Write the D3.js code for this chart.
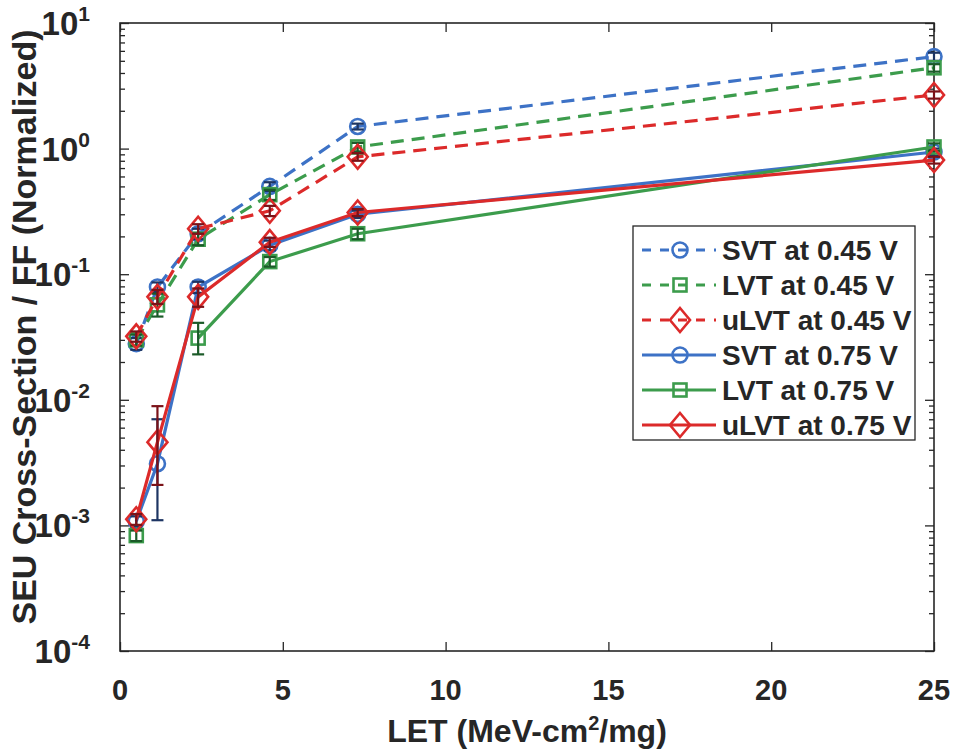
<!DOCTYPE html>
<html>
<head>
<meta charset="utf-8">
<script src="https://cdn.jsdelivr.net/npm/d3@7"></script>
<style>
  body { margin: 0; background: #fff; }
  text { font-family: "Liberation Sans", Arial, sans-serif; font-weight: bold; fill: #262626; }
</style>
</head>
<body>
<svg id="chart" width="954" height="753"></svg>
<script>
// LET values (MeV-cm^2/mg)
const letValues = [0.5, 1.15, 2.4, 4.6, 7.3, 25];

// Normalized SEU cross-section per flip-flop, with error-bar bounds
const svt045   = [0.028, 0.079, 0.21, 0.50, 1.50, 5.4];
const svt045Lo = [0.025, 0.072, 0.19, 0.46, 1.42, 5.0];
const svt045Hi = [0.031, 0.086, 0.23, 0.54, 1.58, 5.8];

const lvt045   = [0.030, 0.057, 0.19, 0.43, 1.03, 4.4];
const lvt045Lo = [0.027, 0.046, 0.17, 0.39, 0.95, 4.1];
const lvt045Hi = [0.033, 0.070, 0.21, 0.47, 1.11, 4.7];

const ulvt045   = [0.032, 0.066, 0.23, 0.32, 0.86, 2.67];
const ulvt045Lo = [0.029, 0.058, 0.21, 0.29, 0.80, 2.50];
const ulvt045Hi = [0.035, 0.075, 0.25, 0.35, 0.92, 2.85];

const svt075   = [0.00108, 0.0031, 0.079, 0.170, 0.30, 0.94];
const svt075Lo = [0.00098, 0.0011, 0.071, 0.155, 0.28, 0.88];
const svt075Hi = [0.00118, 0.0070, 0.087, 0.185, 0.32, 1.00];

// no upsets recorded at the second LET point
const lvt075   = [0.00083, null, 0.031, 0.126, 0.21, 1.03];
const lvt075Lo = [0.00075, null, 0.023, 0.115, 0.19, 0.96];
const lvt075Hi = [0.00091, null, 0.041, 0.137, 0.23, 1.10];

const ulvt075   = [0.00112, 0.0046, 0.066, 0.180, 0.31, 0.81];
const ulvt075Lo = [0.00101, 0.0021, 0.055, 0.165, 0.29, 0.76];
const ulvt075Hi = [0.00123, 0.0089, 0.077, 0.195, 0.33, 0.86];

const seriesLabels = ["SVT at 0.45 V", "LVT at 0.45 V", "uLVT at 0.45 V",
                      "SVT at 0.75 V", "LVT at 0.75 V", "uLVT at 0.75 V"];

const xTicks = [0, 5, 10, 15, 20, 25];
const yExponents = [-4, -3, -2, -1, 0, 1];

const blue = "#3d72c6", green = "#3c9c4c", red = "#dc2a2a";
const blueDark = "#1d3563", greenDark = "#1b5a28", redDark = "#7b1218";

const series = [
  { name: seriesLabels[0], v: svt045,  lo: svt045Lo,  hi: svt045Hi,  color: blue,  err: blueDark,  marker: "circle",  dashed: true },
  { name: seriesLabels[1], v: lvt045,  lo: lvt045Lo,  hi: lvt045Hi,  color: green, err: greenDark, marker: "square",  dashed: true },
  { name: seriesLabels[2], v: ulvt045, lo: ulvt045Lo, hi: ulvt045Hi, color: red,   err: redDark,   marker: "diamond", dashed: true },
  { name: seriesLabels[3], v: svt075,  lo: svt075Lo,  hi: svt075Hi,  color: blue,  err: blueDark,  marker: "circle",  dashed: false },
  { name: seriesLabels[4], v: lvt075,  lo: lvt075Lo,  hi: lvt075Hi,  color: green, err: greenDark, marker: "square",  dashed: false },
  { name: seriesLabels[5], v: ulvt075, lo: ulvt075Lo, hi: ulvt075Hi, color: red,   err: redDark,   marker: "diamond", dashed: false }
];

const svg = d3.select("#chart");
const plotLeft = 120, plotRight = 934, plotTop = 23, plotBottom = 651;

const x = d3.scaleLinear().domain([0, 25]).range([plotLeft, plotRight]);
const y = d3.scaleLog().domain([1e-4, 10]).range([plotBottom, plotTop]);

const axisColor = "#262626";

// minor log ticks
const minorTicks = [];
yExponents.slice(0, -1).forEach(e => {
  for (let m = 2; m <= 9; m++) minorTicks.push(m * Math.pow(10, e));
});

const axes = svg.append("g");
const yMajor = yExponents.map(e => Math.pow(10, e));
axes.append("g").attr("transform", `translate(${plotLeft},0)`)
  .call(d3.axisLeft(y).tickValues(minorTicks).tickSize(-5).tickFormat(""))
  .call(g => g.select(".domain").remove());
axes.append("g").attr("transform", `translate(${plotRight},0)`)
  .call(d3.axisRight(y).tickValues(minorTicks).tickSize(-5).tickFormat(""))
  .call(g => g.select(".domain").remove());
axes.append("g").attr("transform", `translate(${plotLeft},0)`)
  .call(d3.axisLeft(y).tickValues(yMajor).tickSize(-9).tickFormat(""))
  .call(g => g.select(".domain").remove());
axes.append("g").attr("transform", `translate(${plotRight},0)`)
  .call(d3.axisRight(y).tickValues(yMajor).tickSize(-9).tickFormat(""))
  .call(g => g.select(".domain").remove());
axes.append("g").attr("transform", `translate(0,${plotBottom})`)
  .call(d3.axisBottom(x).tickValues(xTicks).tickSize(-9).tickFormat(""))
  .call(g => g.select(".domain").remove());
axes.append("g").attr("transform", `translate(0,${plotTop})`)
  .call(d3.axisTop(x).tickValues(xTicks).tickSize(-9).tickFormat(""))
  .call(g => g.select(".domain").remove());
axes.selectAll("line").attr("stroke", axisColor).attr("stroke-width", 1.3);

// Box
axes.append("rect")
  .attr("x", plotLeft).attr("y", plotTop)
  .attr("width", plotRight - plotLeft).attr("height", plotBottom - plotTop)
  .attr("fill", "none").attr("stroke", axisColor).attr("stroke-width", 1.6);

// Y tick labels: 10^n
yExponents.forEach(e => {
  const t = svg.append("text")
    .attr("x", 90).attr("y", y(Math.pow(10, e)) + 12)
    .attr("text-anchor", "end")
    .style("font-size", "33px");
  t.append("tspan").text("10");
  t.append("tspan").attr("dy", -14).style("font-size", "21px").text(e < 0 ? "-" + (-e) : String(e));
});

// X tick labels
svg.selectAll(".xlab").data(xTicks).enter().append("text")
  .attr("x", d => x(d)).attr("y", 700)
  .attr("text-anchor", "middle")
  .style("font-size", "29px")
  .text(d => d);

// Axis titles
const xTitle = svg.append("text")
  .attr("x", (plotLeft + plotRight) / 2).attr("y", 742)
  .attr("text-anchor", "middle").style("font-size", "32px");
xTitle.append("tspan").text("LET (MeV-cm");
xTitle.append("tspan").attr("dy", -12).style("font-size", "20px").text("2");
xTitle.append("tspan").attr("dy", 12).text("/mg)");

svg.append("text")
  .attr("transform", `translate(36,${(plotTop + plotBottom) / 2 - 10}) rotate(-90)`)
  .attr("text-anchor", "middle").style("font-size", "34px")
  .text("SEU Cross-Section / FF (Normalized)");

// Marker shapes
function drawMarker(g, shape, cx, cy, color) {
  if (shape === "circle") {
    g.append("circle").attr("cx", cx).attr("cy", cy).attr("r", 7.5)
      .attr("fill", "none").attr("stroke", color).attr("stroke-width", 2.6);
  } else if (shape === "square") {
    g.append("rect").attr("x", cx - 6.5).attr("y", cy - 6.5).attr("width", 13).attr("height", 13)
      .attr("fill", "none").attr("stroke", color).attr("stroke-width", 2.6);
  } else {
    g.append("path").attr("d", `M${cx},${cy - 12}L${cx + 10},${cy}L${cx},${cy + 12}L${cx - 10},${cy}Z`)
      .attr("fill", "none").attr("stroke", color).attr("stroke-width", 2.6);
  }
}

const plot = svg.append("g");
series.forEach(s => {
  const pts = letValues.map((l, i) => ({ l, v: s.v[i], lo: s.lo[i], hi: s.hi[i] }));
  const line = d3.line().defined(d => d.v != null).x(d => x(d.l)).y(d => y(d.v));
  const g = plot.append("g");
  g.append("path").datum(pts).attr("d", line)
    .attr("fill", "none").attr("stroke", s.color).attr("stroke-width", 3.2)
    .attr("stroke-dasharray", s.dashed ? "13 8" : null);
  pts.filter(d => d.v != null).forEach(d => drawMarker(g, s.marker, x(d.l), y(d.v), s.color));
  // error bars
  pts.filter(d => d.v != null).forEach(d => {
    const cx = x(d.l);
    g.append("line").attr("x1", cx).attr("x2", cx).attr("y1", y(d.lo)).attr("y2", y(d.hi))
      .attr("stroke", s.err).attr("stroke-width", 2.2);
    [d.lo, d.hi].forEach(b => g.append("line")
      .attr("x1", cx - 6).attr("x2", cx + 6).attr("y1", y(b)).attr("y2", y(b))
      .attr("stroke", s.err).attr("stroke-width", 2.2));
  });
});

// Legend
const legend = svg.append("g");
legend.append("rect").attr("x", 633).attr("y", 226).attr("width", 282).attr("height", 214)
  .attr("fill", "#fff").attr("stroke", axisColor).attr("stroke-width", 1.3);
series.forEach((s, i) => {
  const ly = 250 + i * 35;
  legend.append("line").attr("x1", 642).attr("x2", 716).attr("y1", ly).attr("y2", ly)
    .attr("stroke", s.color).attr("stroke-width", 3)
    .attr("stroke-dasharray", s.dashed ? "9 9" : null);
  drawMarker(legend, s.marker, 680, ly, s.color);
  legend.append("text").attr("x", 722).attr("y", ly + 10)
    .style("font-size", "28px").text(s.name);
});
</script>
</body>
</html>
